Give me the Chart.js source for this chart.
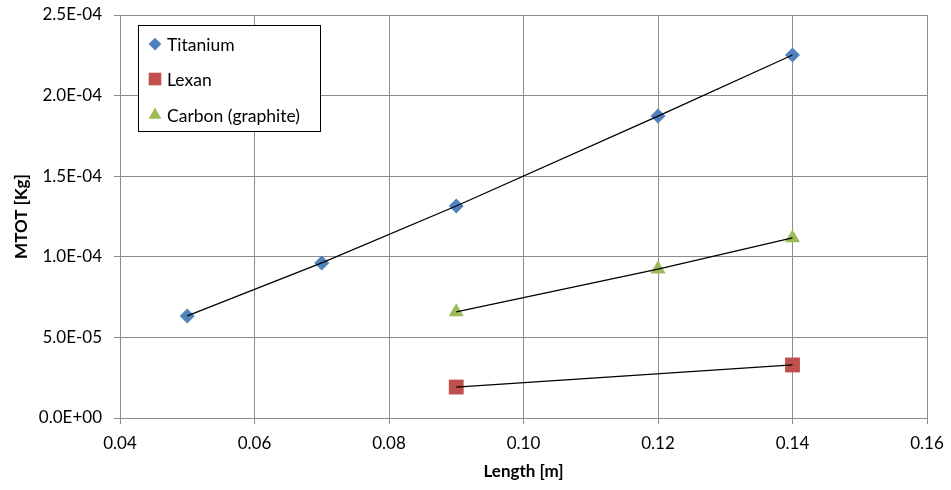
<!DOCTYPE html>
<html>
<head>
<meta charset="utf-8">
<script src="https://cdn.jsdelivr.net/npm/chart.js@4/dist/chart.umd.min.js"></script>
<style>
  html, body { margin: 0; padding: 0; background: #fff; }
  #wrap { width: 951px; height: 490px; }
</style>
</head>
<body>
<div id="wrap"><canvas id="graphCanvas"></canvas></div>
<script>
var FONT = "Lato, 'Open Sans', sans-serif";

// data
var titaniumX = [0.05, 0.07, 0.09, 0.12, 0.14];
var titaniumY = [6.33e-5, 9.62e-5, 1.315e-4, 1.873e-4, 2.252e-4];
var lexanX = [0.09, 0.14];
var lexanY = [1.92e-5, 3.29e-5];
var carbonX = [0.09, 0.12, 0.14];
var carbonY = [6.58e-5, 9.24e-5, 1.117e-4];

var seriesNames = ["Titanium", "Lexan", "Carbon (graphite)"];
var seriesColors = ["#4F81BD", "#C0504D", "#9BBB59"];
var seriesStyles = ["rectRot", "rect", "triangle"];
var seriesRadius = [7.5, 10.5, 8.7];

function pts(xs, ys) {
  var out = [];
  for (var i = 0; i < xs.length; i++) out.push({x: xs[i], y: ys[i]});
  return out;
}

var allData = [pts(titaniumX, titaniumY), pts(lexanX, lexanY), pts(carbonX, carbonY)];

var datasets = [];
// markers first (drawn underneath)
for (var i = 0; i < 3; i++) {
  datasets.push({
    label: seriesNames[i],
    data: allData[i],
    showLine: false,
    pointStyle: seriesStyles[i],
    pointRadius: seriesRadius[i],
    pointHoverRadius: seriesRadius[i],
    backgroundColor: seriesColors[i],
    borderColor: seriesColors[i],
    borderWidth: 0,
    order: 2
  });
}
// black connecting lines on top
for (var j = 0; j < 3; j++) {
  datasets.push({
    label: "_line" + j,
    data: allData[j],
    showLine: true,
    pointRadius: 0,
    borderColor: "#000",
    borderWidth: 1.3,
    fill: false,
    order: 1
  });
}

function sciLabel(v) {
  if (Math.abs(v) < 1e-12) return "0.0E+00";
  var s = v.toExponential(1).toUpperCase();
  var parts = s.split("E");
  var e = parseInt(parts[1], 10);
  var sign = e < 0 ? "-" : "+";
  var ea = Math.abs(e);
  return parts[0] + "E" + sign + (ea < 10 ? "0" + ea : ea);
}

var legendBox = {
  id: "legendBox",
  afterDraw: function(chart) {
    var ctx = chart.ctx;
    ctx.save();
    ctx.fillStyle = "#fff";
    ctx.fillRect(138, 25, 182, 106);
    ctx.strokeStyle = "#000";
    ctx.lineWidth = 1;
    ctx.strokeRect(138.5, 25.5, 182, 106);
    var rows = [44, 79, 115];
    ctx.font = "17.5px " + FONT;
    ctx.textBaseline = "middle";
    for (var i = 0; i < 3; i++) {
      ctx.fillStyle = seriesColors[i];
      ctx.strokeStyle = seriesColors[i];
      Chart.helpers.drawPoint(ctx, {pointStyle: seriesStyles[i], radius: seriesRadius[i] * 0.85, borderWidth: 0}, 155, rows[i]);
      ctx.fillStyle = "#000";
      ctx.fillText(seriesNames[i], 167, rows[i] + 1);
    }
    ctx.restore();
  }
};

var chart = new Chart(document.getElementById("graphCanvas"), {
  type: "scatter",
  data: { datasets: datasets },
  plugins: [legendBox],
  options: {
    responsive: true,
    maintainAspectRatio: false,
    animation: false,
    layout: { padding: 0 },
    plugins: {
      legend: { display: false },
      tooltip: { enabled: false }
    },
    scales: {
      x: {
        type: "linear",
        min: 0.04,
        max: 0.16,
        ticks: {
          stepSize: 0.02,
          color: "#000",
          font: { family: FONT, size: 17 },
          padding: 9,
          callback: function(v) { return v.toFixed(2); }
        },
        grid: { color: "#8c8c8c", lineWidth: 1, tickLength: 6 },
        border: { color: "#8c8c8c" },
        title: {
          display: true,
          text: "Length [m]",
          color: "#000",
          font: { family: FONT, size: 17, weight: "bold" },
          padding: { top: 4, bottom: 8 }
        },
        afterFit: function(s) { s.height = 72; s.paddingRight = 24; s.paddingLeft = 0; }
      },
      y: {
        type: "linear",
        min: 0,
        max: 2.5e-4,
        ticks: {
          stepSize: 5e-5,
          color: "#000",
          font: { family: FONT, size: 17 },
          padding: 12,
          callback: function(v) { return sciLabel(v); }
        },
        grid: { color: "#8c8c8c", lineWidth: 1, tickLength: 6 },
        border: { color: "#8c8c8c" },
        title: {
          display: true,
          text: "MTOT [Kg]",
          color: "#000",
          font: { family: FONT, size: 17, weight: "bold" },
          padding: { top: 11, bottom: 4 }
        },
        afterFit: function(s) { s.width = 120; s.paddingTop = 15; s.paddingBottom = 0; }
      }
    }
  }
});
</script>
</body>
</html>
